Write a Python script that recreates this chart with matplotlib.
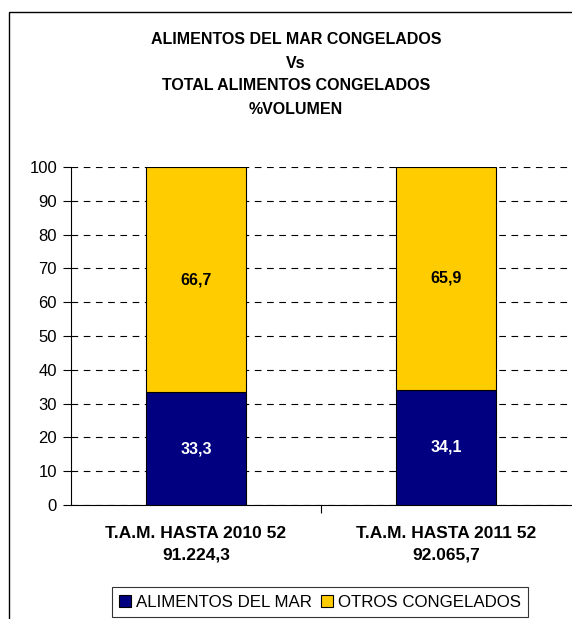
import matplotlib
matplotlib.use("Agg")
import matplotlib.pyplot as plt
from matplotlib.patches import Rectangle
import numpy as np

# ── Data ──────────────────────────────────────────────────────────────────────
categories = ["T.A.M. HASTA 2010 52\n91.224,3", "T.A.M. HASTA 2011 52\n92.065,7"]
mar_values = [33.3, 34.1]
otros_values = [66.7, 65.9]
mar_labels = ["33,3", "34,1"]
otros_labels = ["66,7", "65,9"]
series_names = ["ALIMENTOS DEL MAR", "OTROS CONGELADOS"]
title_lines = ["ALIMENTOS DEL MAR CONGELADOS", "Vs", "TOTAL ALIMENTOS CONGELADOS", "%VOLUMEN"]

plt.rcParams["font.family"] = ["Liberation Sans", "DejaVu Sans"]

W, H = 572, 619
fig = plt.figure(figsize=(W / 100, H / 100), dpi=100)

# outer frame (right and bottom edges fall outside the image)
fig.patches.append(Rectangle((9 / W, -0.01), 1.0, 1 - 12 / H + 0.01,
                             transform=fig.transFigure, fill=False,
                             edgecolor="black", linewidth=1))

# title
for i, line in enumerate(title_lines):
    fig.text(296 / W, 1 - (40 + i * 23) / H, line, ha="center", va="center",
             fontsize=11.5, fontweight="bold")

# ── Axes ──────────────────────────────────────────────────────────────────────
left, right, top, bottom = 71, 571, 167, 505
ax = fig.add_axes([left / W, 1 - bottom / H, (right - left) / W, (bottom - top) / H])

x = np.arange(len(categories))
width = 0.4
ax.bar(x, mar_values, width, color="#000080", edgecolor="black", linewidth=0.8,
       label=series_names[0], zorder=3)
ax.bar(x, otros_values, width, bottom=mar_values, color="#FFCC00", edgecolor="black",
       linewidth=0.8, label=series_names[1], zorder=3)

for xi, m, o, ml, ol in zip(x, mar_values, otros_values, mar_labels, otros_labels):
    ax.text(xi, m / 2, ml, ha="center", va="center", color="white",
            fontsize=11.5, fontweight="bold", zorder=4)
    ax.text(xi, m + o / 2, ol, ha="center", va="center", color="black",
            fontsize=11.5, fontweight="bold", zorder=4)

ax.set_xlim(-0.5, 1.5)
ax.set_ylim(0, 100)
ax.set_yticks(range(0, 101, 10))
ax.tick_params(axis="y", labelsize=12, length=6, width=0.8, pad=4)
ax.yaxis.grid(True, linestyle=(0, (6, 5)), color="black", linewidth=0.8, zorder=0)

ax.set_xticks([0.5])
ax.set_xticklabels([])
ax.tick_params(axis="x", length=6, width=0.8)
for xi, cat in zip(x, categories):
    ax.text(xi, -0.062, cat, transform=ax.get_xaxis_transform(), ha="center",
            va="top", fontsize=12.5, fontweight="bold", linespacing=1.55)

for side in ("top", "right"):
    ax.spines[side].set_visible(False)
ax.spines["left"].set_linewidth(0.8)
ax.spines["bottom"].set_linewidth(0.8)

# ── Legend ────────────────────────────────────────────────────────────────────
leg = fig.legend(loc="upper center", bbox_to_anchor=(320 / W, 1 - 587 / H), ncol=2,
                 fontsize=12.2, frameon=True, fancybox=False, handlelength=0.7,
                 handleheight=0.7, handletextpad=0.3, columnspacing=0.5,
                 borderpad=0.45, borderaxespad=0)
leg.get_frame().set_edgecolor("black")
leg.get_frame().set_linewidth(0.8)

fig.savefig("out.png", dpi=100)
